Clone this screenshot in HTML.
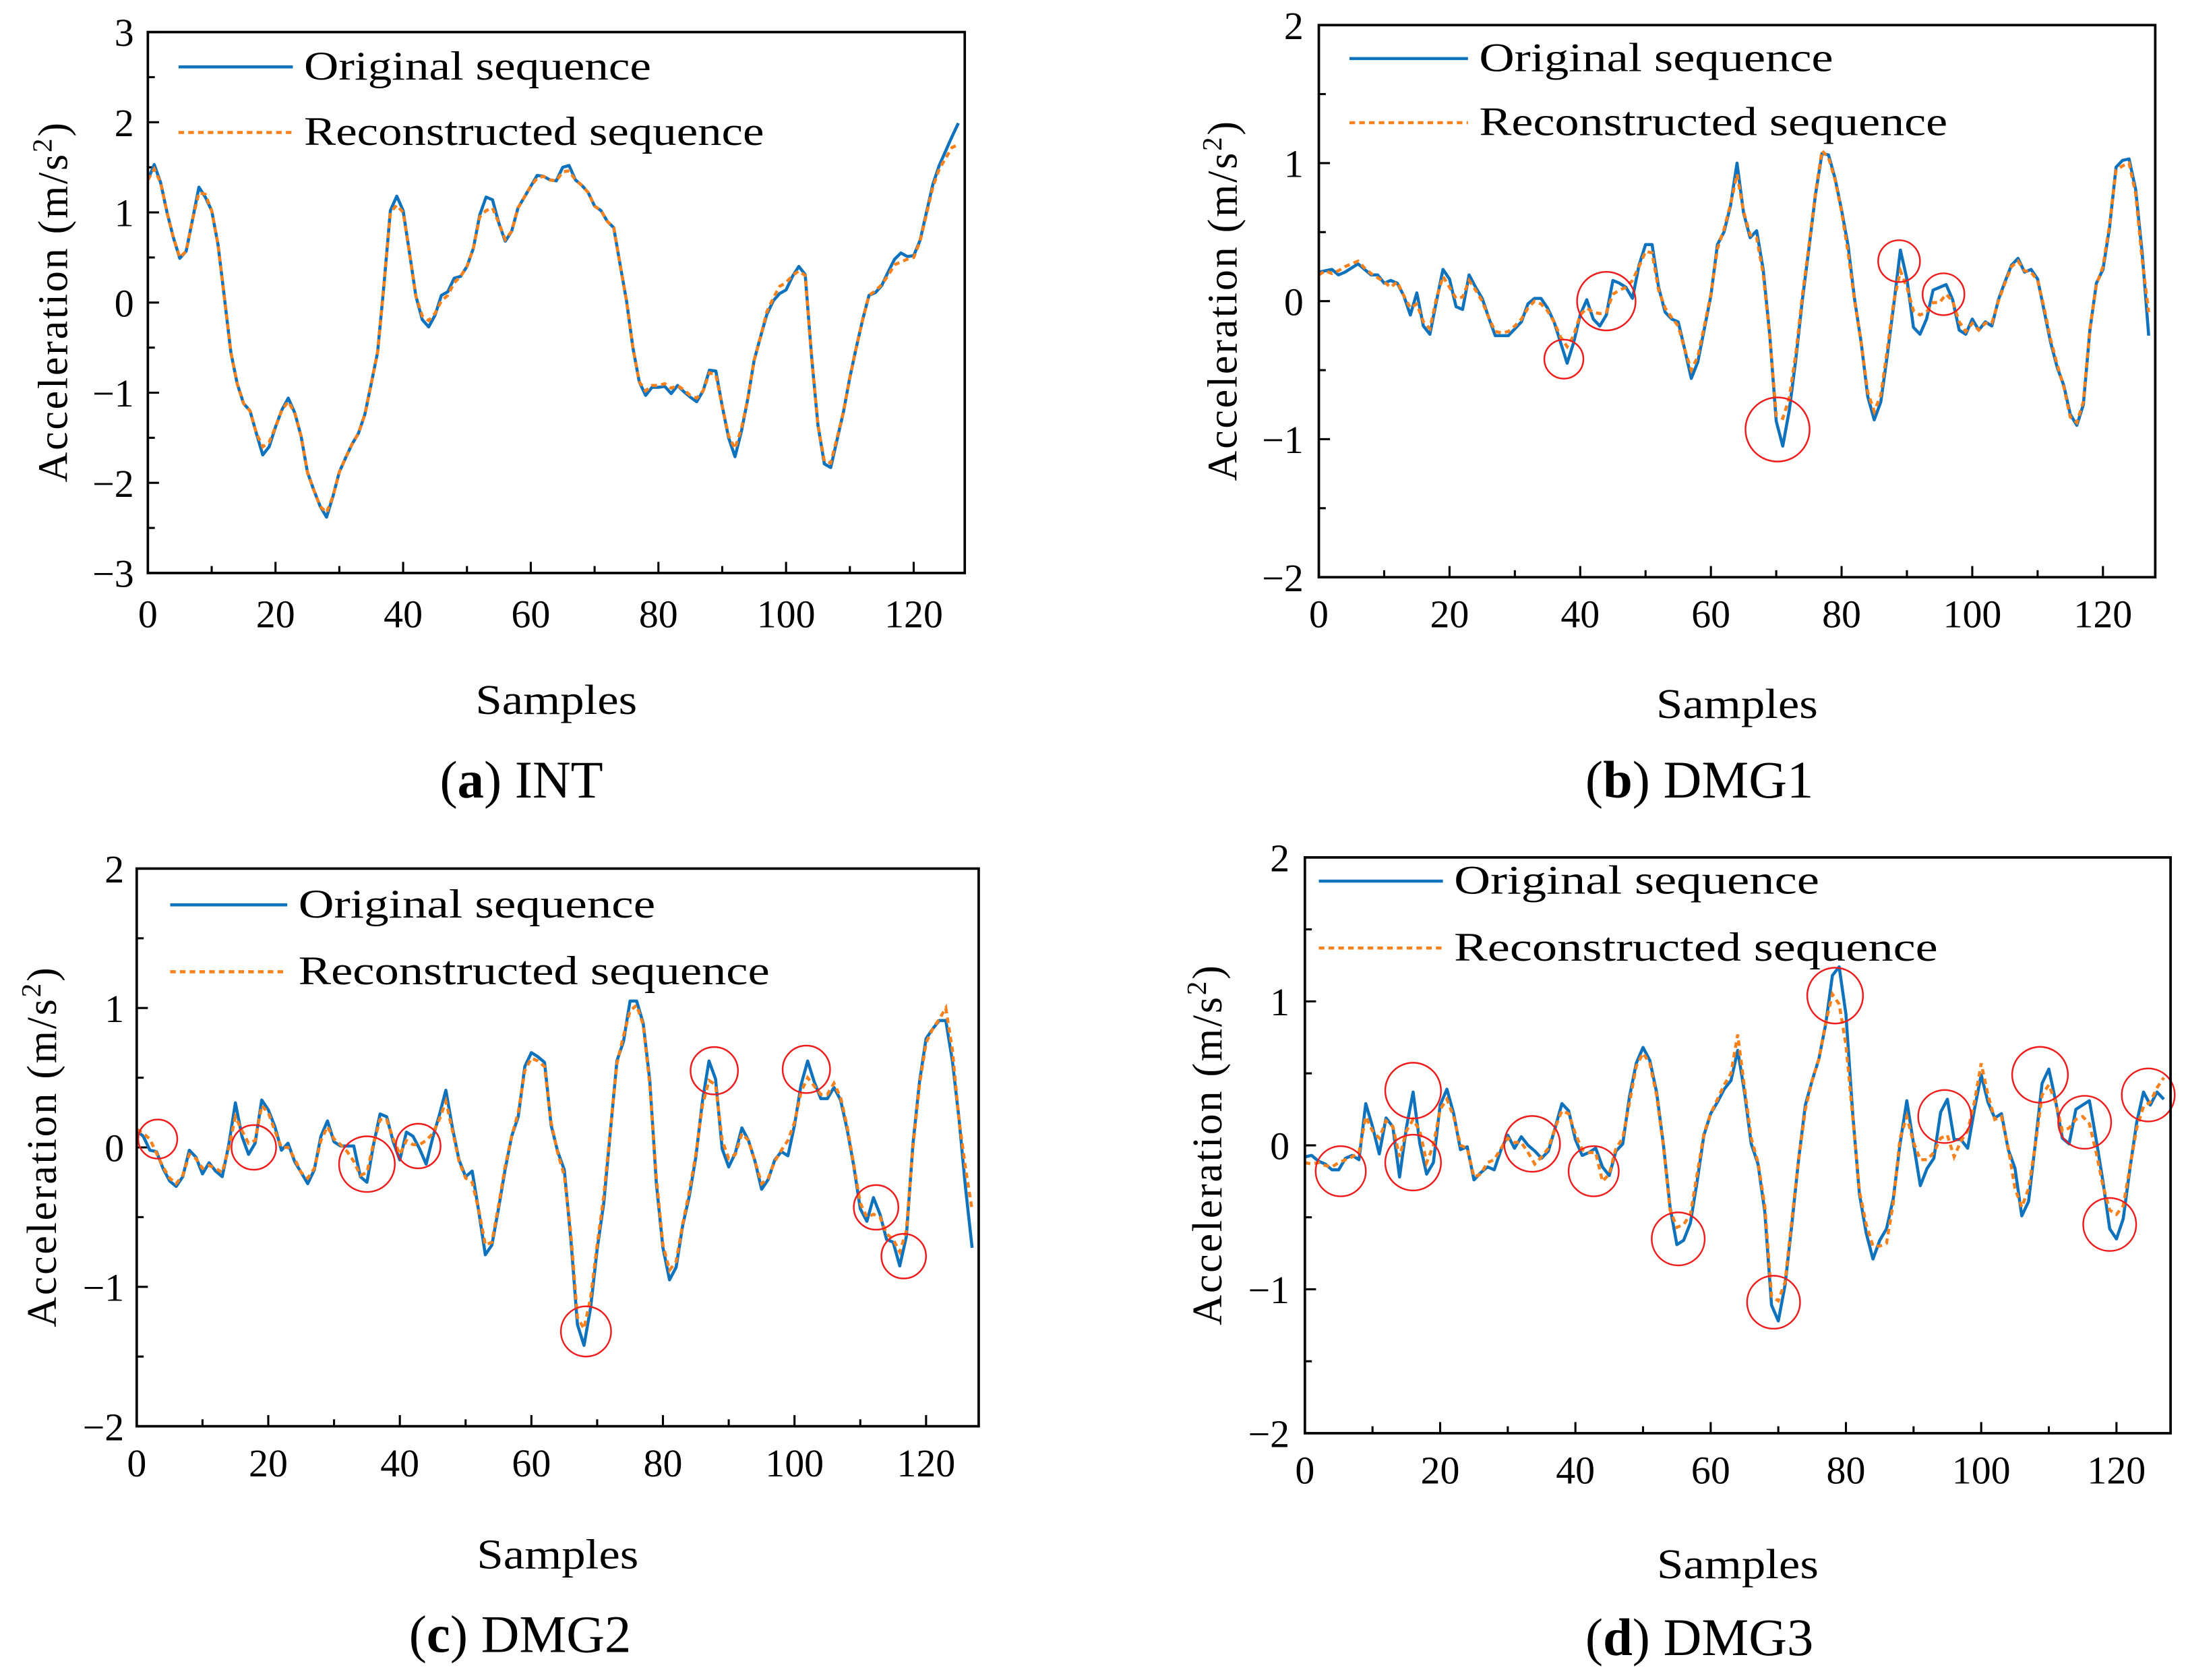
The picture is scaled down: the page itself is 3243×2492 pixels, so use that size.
<!DOCTYPE html>
<html><head><meta charset="utf-8">
<style>
html,body{margin:0;padding:0;background:#fff;}
svg{display:block;}
text{font-family:"Liberation Serif",serif;fill:#000;}
</style></head>
<body>
<svg id="fig" width="3243" height="2492" viewBox="0 0 1568 1205" xmlns="http://www.w3.org/2000/svg"></svg>
<script>
const samples = Array.from({length:128},(_, i)=>i);
const xTicks = [0,20,40,60,80,100,120];
const origA = [1.36,1.53,1.33,1.0,0.72,0.49,0.57,0.92,1.28,1.17,
1.02,0.64,0.05,-0.55,-0.9,-1.12,-1.2,-1.45,-1.69,-1.6,
-1.38,-1.19,-1.06,-1.22,-1.48,-1.88,-2.08,-2.26,-2.38,-2.15,
-1.88,-1.72,-1.57,-1.45,-1.24,-0.9,-0.55,0.2,1.02,1.18,
1.02,0.55,0.07,-0.19,-0.27,-0.14,0.08,0.12,0.27,0.29,
0.4,0.6,0.97,1.17,1.14,0.88,0.68,0.79,1.05,1.17,
1.29,1.41,1.4,1.36,1.35,1.5,1.52,1.36,1.3,1.22,
1.07,1.02,0.9,0.83,0.42,0.02,-0.5,-0.88,-1.03,-0.94,
-0.94,-0.93,-1.01,-0.92,-0.99,-1.05,-1.1,-0.98,-0.75,-0.76,
-1.15,-1.5,-1.71,-1.43,-1.07,-0.64,-0.38,-0.13,0.02,0.1,
0.14,0.29,0.4,0.31,-0.6,-1.36,-1.79,-1.83,-1.52,-1.21,
-0.83,-0.5,-0.19,0.08,0.11,0.19,0.34,0.48,0.55,0.51,
0.52,0.69,1.0,1.31,1.52,1.68,1.84,1.99];
const recoA = [1.36,1.48,1.33,1.0,0.72,0.5,0.57,0.92,1.22,1.2,
1.02,0.64,0.05,-0.55,-0.9,-1.12,-1.2,-1.45,-1.6,-1.55,
-1.38,-1.19,-1.1,-1.22,-1.48,-1.88,-2.08,-2.26,-2.33,-2.15,
-1.88,-1.72,-1.57,-1.45,-1.24,-0.9,-0.55,0.2,1.0,1.08,
1.0,0.55,0.07,-0.15,-0.2,-0.12,0.02,0.08,0.22,0.29,
0.4,0.6,0.95,1.02,1.05,0.88,0.7,0.79,1.05,1.17,
1.29,1.38,1.4,1.36,1.35,1.45,1.46,1.36,1.3,1.22,
1.07,1.02,0.9,0.83,0.42,0.02,-0.5,-0.88,-0.98,-0.92,
-0.92,-0.9,-0.95,-0.92,-0.97,-1.03,-1.06,-0.98,-0.78,-0.8,
-1.15,-1.48,-1.62,-1.4,-1.07,-0.64,-0.38,-0.1,0.05,0.18,
0.22,0.3,0.35,0.3,-0.6,-1.36,-1.76,-1.78,-1.5,-1.21,
-0.83,-0.5,-0.19,0.08,0.13,0.2,0.3,0.42,0.45,0.48,
0.5,0.68,0.98,1.28,1.48,1.6,1.72,1.75];
const origB = [0.21,0.22,0.23,0.19,0.21,0.24,0.27,0.23,0.19,0.19,
0.13,0.15,0.13,0.04,-0.1,0.06,-0.18,-0.24,0.0,0.23,
0.16,-0.04,-0.06,0.19,0.1,0.02,-0.12,-0.25,-0.25,-0.25,
-0.2,-0.15,-0.02,0.02,0.02,-0.05,-0.15,-0.3,-0.45,-0.3,
-0.1,0.01,-0.13,-0.18,-0.1,0.15,0.13,0.1,0.02,0.26,
0.41,0.41,0.1,-0.08,-0.13,-0.15,-0.35,-0.56,-0.44,-0.2,
0.04,0.41,0.5,0.69,1.0,0.64,0.46,0.51,0.23,-0.24,
-0.87,-1.05,-0.79,-0.42,0.01,0.38,0.77,1.07,1.06,0.89,
0.66,0.4,0.01,-0.3,-0.69,-0.86,-0.73,-0.39,-0.02,0.37,
0.16,-0.19,-0.24,-0.13,0.08,0.1,0.12,0.01,-0.21,-0.24,
-0.13,-0.21,-0.15,-0.18,0.01,0.14,0.26,0.31,0.21,0.23,
0.16,-0.07,-0.3,-0.48,-0.61,-0.82,-0.9,-0.75,-0.21,0.13,
0.23,0.53,0.97,1.02,1.03,0.81,0.35,-0.25];
const recoB = [0.19,0.22,0.2,0.22,0.25,0.27,0.29,0.24,0.2,0.17,
0.14,0.1,0.14,0.04,-0.05,-0.02,-0.15,-0.2,0.02,0.18,
0.1,0.02,0.03,0.15,0.08,0.0,-0.12,-0.22,-0.23,-0.22,
-0.18,-0.13,-0.05,0.0,-0.02,-0.07,-0.15,-0.26,-0.33,-0.25,
-0.1,-0.05,-0.08,-0.09,-0.08,0.05,0.08,0.1,0.15,0.25,
0.36,0.35,0.08,-0.05,-0.12,-0.18,-0.35,-0.5,-0.4,-0.18,
0.05,0.38,0.52,0.7,0.92,0.65,0.48,0.46,0.2,-0.25,
-0.83,-0.85,-0.7,-0.38,0.04,0.4,0.78,1.09,1.04,0.88,
0.65,0.35,0.0,-0.3,-0.66,-0.8,-0.68,-0.35,0.0,0.22,
0.1,-0.07,-0.1,-0.08,-0.01,-0.01,0.05,0.0,-0.15,-0.22,
-0.16,-0.21,-0.16,-0.16,0.0,0.13,0.25,0.29,0.22,0.21,
0.15,-0.05,-0.28,-0.46,-0.62,-0.84,-0.88,-0.73,-0.2,0.12,
0.25,0.55,0.95,0.98,1.0,0.78,0.3,-0.08];
const origC = [0.12,0.08,-0.02,-0.03,-0.15,-0.24,-0.28,-0.21,-0.02,-0.07,
-0.19,-0.11,-0.17,-0.21,0.02,0.32,0.08,-0.05,0.03,0.34,
0.27,0.15,-0.02,0.03,-0.1,-0.18,-0.26,-0.16,0.08,0.19,
0.04,0.01,0.01,0.01,-0.21,-0.25,0.02,0.24,0.22,0.04,
-0.09,0.11,0.08,-0.01,-0.12,0.07,0.23,0.41,0.14,-0.09,
-0.21,-0.17,-0.46,-0.77,-0.7,-0.44,-0.16,0.08,0.22,0.58,
0.68,0.65,0.61,0.16,-0.03,-0.16,-0.66,-1.27,-1.42,-1.15,
-0.73,-0.4,0.11,0.62,0.76,1.05,1.05,0.89,0.48,-0.26,
-0.72,-0.95,-0.86,-0.56,-0.35,-0.07,0.33,0.62,0.49,-0.01,
-0.14,-0.04,0.14,0.05,-0.1,-0.3,-0.23,-0.09,-0.03,-0.06,
0.16,0.45,0.62,0.47,0.35,0.35,0.43,0.34,0.13,-0.13,
-0.44,-0.53,-0.36,-0.48,-0.66,-0.68,-0.85,-0.64,0.02,0.47,
0.78,0.85,0.91,0.91,0.62,0.21,-0.29,-0.72];
const recoC = [0.13,0.1,0.06,-0.04,-0.14,-0.22,-0.26,-0.2,-0.05,-0.08,
-0.15,-0.13,-0.15,-0.18,0.0,0.22,0.12,0.03,0.05,0.3,
0.25,0.12,0.0,0.0,-0.08,-0.18,-0.22,-0.15,0.05,0.15,
0.06,0.02,-0.03,-0.1,-0.2,-0.18,0.03,0.2,0.2,0.06,
-0.05,0.05,0.02,0.02,0.05,0.1,0.2,0.33,0.12,-0.1,
-0.22,-0.25,-0.45,-0.7,-0.68,-0.42,-0.14,0.08,0.25,0.55,
0.64,0.62,0.58,0.18,-0.04,-0.2,-0.62,-1.22,-1.3,-1.08,
-0.7,-0.35,0.12,0.6,0.8,0.98,1.02,0.88,0.45,-0.22,
-0.7,-0.88,-0.82,-0.55,-0.32,-0.05,0.3,0.48,0.45,0.05,
-0.08,-0.05,0.1,0.05,-0.1,-0.26,-0.22,-0.1,-0.02,0.05,
0.18,0.4,0.5,0.44,0.38,0.38,0.46,0.36,0.15,-0.12,
-0.4,-0.5,-0.48,-0.5,-0.62,-0.66,-0.75,-0.6,0.0,0.45,
0.75,0.85,0.92,1.0,0.7,0.2,-0.15,-0.45];
const origD = [-0.08,-0.07,-0.11,-0.13,-0.17,-0.17,-0.09,-0.07,-0.1,0.29,
0.13,-0.06,0.19,0.13,-0.22,0.12,0.37,0.01,-0.2,-0.12,
0.28,0.39,0.22,-0.03,-0.01,-0.24,-0.19,-0.15,-0.17,-0.03,
0.07,-0.02,0.06,0.0,-0.04,-0.09,-0.04,0.12,0.29,0.24,
0.04,-0.07,-0.05,-0.02,-0.15,-0.21,-0.04,0.01,0.34,0.57,
0.68,0.59,0.37,0.01,-0.43,-0.69,-0.66,-0.54,-0.25,0.07,
0.22,0.3,0.39,0.45,0.66,0.37,0.01,-0.13,-0.46,-1.11,
-1.22,-0.97,-0.55,-0.1,0.28,0.45,0.6,0.84,1.18,1.24,
0.91,0.22,-0.34,-0.61,-0.79,-0.66,-0.58,-0.37,0.01,0.31,
0.01,-0.28,-0.16,-0.09,0.23,0.32,0.04,0.04,-0.02,0.25,
0.49,0.3,0.19,0.22,-0.03,-0.16,-0.49,-0.39,0.01,0.43,
0.53,0.31,0.05,0.01,0.25,0.28,0.31,0.04,-0.25,-0.58,
-0.65,-0.51,-0.16,0.16,0.37,0.28,0.37,0.32];
const recoD = [-0.12,-0.13,-0.12,-0.14,-0.15,-0.12,-0.1,-0.08,-0.05,0.2,
0.1,0.05,0.17,0.13,-0.08,0.1,0.18,0.1,-0.12,0.0,
0.25,0.32,0.2,0.0,-0.02,-0.22,-0.2,-0.12,-0.1,-0.02,
0.05,0.02,0.02,-0.05,-0.13,-0.08,-0.02,0.12,0.24,0.22,
0.08,-0.03,-0.05,-0.05,-0.25,-0.2,-0.02,0.05,0.3,0.55,
0.64,0.57,0.35,0.0,-0.45,-0.57,-0.55,-0.48,-0.2,0.08,
0.22,0.32,0.42,0.5,0.77,0.4,0.05,-0.12,-0.42,-1.05,
-1.08,-0.95,-0.52,-0.1,0.25,0.45,0.6,0.85,1.05,0.98,
0.7,0.2,-0.32,-0.55,-0.7,-0.7,-0.68,-0.4,0.05,0.2,
0.02,-0.1,-0.1,-0.05,0.05,0.07,-0.08,0.03,0.1,0.3,
0.57,0.35,0.18,0.2,-0.02,-0.3,-0.43,-0.3,0.0,0.35,
0.42,0.3,0.1,0.12,0.18,0.2,0.15,-0.05,-0.28,-0.45,
-0.48,-0.42,-0.15,0.12,0.27,0.3,0.4,0.47];
const circleXB = [37.5,44,70.2,88.8,95.6];
const circleYB = [-0.42,0.0,-0.93,0.29,0.05];
const circleRB = [14,21,23,15,15];
const circleXC = [3.2,17.8,35,42.8,87.8,101.8,112.4,116.6,68.3];
const circleYC = [0.06,0.0,-0.12,0.01,0.55,0.56,-0.43,-0.78,-1.32];
const circleRC = [14,16,20,16,17,17,16,16,18];
const circleXD = [5.3,16,16,33.6,42.7,55.2,69.3,78.4,94.6,108.7,115.3,119,124.7];
const circleYD = [-0.18,0.38,-0.12,0.01,-0.18,-0.65,-1.09,1.04,0.2,0.49,0.16,-0.55,0.35];
const circleRD = [18,20,20,20,18,19,19,20,19,20,19,19,19];

const NS = 'http://www.w3.org/2000/svg';
const svg = document.getElementById('fig');
function mk(tag, attrs, parent){ const e=document.createElementNS(NS,tag); for(const k in attrs) e.setAttribute(k,attrs[k]); (parent||svg).appendChild(e); return e; }

const panels = [
 {id:'a', L:106,R:692,T:23,B:411, ymin:-3,ymax:3, yTicks:[-3,-2,-1,0,1,2,3], orig:origA, reco:recoA, cx:[],cy:[],cr:[],
  ylabX:96, xlabY:450, ytX:38, sampY:512, capX:374, capY:572, letter:'a', name:'INT',
  leg:{x1:128,x2:210,y1:48,y2:95,tx:218,w1:249,w2:330}},
 {id:'b', L:946,R:1546,T:18,B:414, ymin:-2,ymax:2, yTicks:[-2,-1,0,1,2], orig:origB, reco:recoB, cx:circleXB,cy:circleYB,cr:circleRB,
  ylabX:935, xlabY:450, ytX:877, sampY:515, capX:1219, capY:572, letter:'b', name:'DMG1',
  leg:{x1:968,x2:1053,y1:42,y2:88,tx:1061,w1:254,w2:336}},
 {id:'c', L:98,R:702,T:623,B:1023, ymin:-2,ymax:2, yTicks:[-2,-1,0,1,2], orig:origC, reco:recoC, cx:circleXC,cy:circleYC,cr:circleRC,
  ylabX:89, xlabY:1059, ytX:30, sampY:1125, capX:373, capY:1185, letter:'c', name:'DMG2',
  leg:{x1:122,x2:206,y1:649,y2:697,tx:214,w1:256,w2:338}},
 {id:'d', L:936,R:1557,T:615,B:1028, ymin:-2,ymax:2, yTicks:[-2,-1,0,1,2], orig:origD, reco:recoD, cx:circleXD,cy:circleYD,cr:circleRD,
  ylabX:925, xlabY:1064, ytX:866, sampY:1132, capX:1219, capY:1187, letter:'d', name:'DMG3',
  leg:{x1:946,x2:1035,y1:632,y2:680,tx:1043,w1:262,w2:347}}
];

panels.forEach(p=>{
  const g = mk('g',{});
  
  
  const sx = v => p.L + (v/128)*(p.R-p.L);
  const sy = v => p.B - (v-p.ymin)/(p.ymax-p.ymin)*(p.B-p.T);
  for(let v=0; v<=120; v+=10){
    const maj = v%20===0;
    const t = mk('line',{x1:sx(v),x2:sx(v),y1:p.B,y2:p.B-(maj?8:5),stroke:'#000','stroke-width':1.5},g);
    
    
  }
  for(let v=p.ymin; v<=p.ymax+1e-9; v+=0.5){
    const maj = Math.abs(v-Math.round(v))<1e-9;
    const t = mk('line',{x1:p.L,x2:p.L+(maj?8:5),y1:sy(v),y2:sy(v),stroke:'#000','stroke-width':1.5},g);
    
    
  }
  xTicks.forEach(v=>{
    const t = mk('text',{x:sx(v),y:p.xlabY,'font-size':28,'text-anchor':'middle'},g);
    t.textContent = v;
    
    
  });
  p.yTicks.forEach(v=>{
    const t = mk('text',{x:p.ylabX,y:sy(v)+10,'font-size':28,'text-anchor':'end'},g);
    t.textContent = v<0 ? '\u2212'+Math.abs(v) : String(v);
    
    
  });
  const path = arr => arr.map((v,i)=>(i?'L':'M')+sx(samples[i]).toFixed(2)+','+sy(v).toFixed(2)).join('');
  const o = mk('path',{d:path(p.orig),fill:'none',stroke:'#0f72bd','stroke-width':2.2,'stroke-linejoin':'round'},g);
  
  
  const r = mk('path',{d:path(p.reco),fill:'none',stroke:'#f7811d','stroke-width':2.2,'stroke-dasharray':'4 3'},g);
  
  
  p.cx.forEach((cxv,i)=>{
    const c = mk('circle',{cx:sx(cxv),cy:sy(p.cy[i]),r:p.cr[i],fill:'none',stroke:'#ee1c1c','stroke-width':1.2},g);
    
    
  });
  const f = mk('rect',{x:p.L,y:p.T,width:p.R-p.L,height:p.B-p.T,fill:'none',stroke:'#000','stroke-width':1.8},g);
  
  
  const lg = mk('g',{},g);
  
  
  const l1 = mk('line',{x1:p.leg.x1,x2:p.leg.x2,y1:p.leg.y1,y2:p.leg.y1,stroke:'#0f72bd','stroke-width':2.2},lg);
  
  
  const t1 = mk('text',{x:p.leg.tx,y:p.leg.y1+9,'font-size':29,textLength:p.leg.w1,lengthAdjust:'spacingAndGlyphs'},lg);
  t1.textContent='Original sequence';
  
  
  const l2 = mk('line',{x1:p.leg.x1,x2:p.leg.x2,y1:p.leg.y2,y2:p.leg.y2,stroke:'#f7811d','stroke-width':2.2,'stroke-dasharray':'4 3'},lg);
  
  
  const t2 = mk('text',{x:p.leg.tx,y:p.leg.y2+9,'font-size':29,textLength:p.leg.w2,lengthAdjust:'spacingAndGlyphs'},lg);
  t2.textContent='Reconstructed sequence';
  
  
  const cy = (p.T+p.B)/2;
  const yt = mk('text',{x:p.ytX,y:cy,'font-size':30,'text-anchor':'middle',transform:`rotate(-90 ${p.ytX} ${cy})`,dy:10,textLength:258,lengthAdjust:'spacing'},g);
  yt.innerHTML = 'Acceleration (m/s<tspan dy="-11" font-size="20">2</tspan><tspan dy="11">)</tspan>';
  
  
  const xt = mk('text',{x:(p.L+p.R)/2,y:p.sampY,'font-size':30,'text-anchor':'middle',textLength:116,lengthAdjust:'spacingAndGlyphs'},g);
  xt.textContent='Samples';
  
  
  const cap = mk('text',{x:p.capX,y:p.capY,'font-size':38,'text-anchor':'middle'},g);
  cap.innerHTML = '(<tspan font-weight="bold">'+p.letter+'</tspan>) '+p.name;
  
  
});
</script>
</body></html>
